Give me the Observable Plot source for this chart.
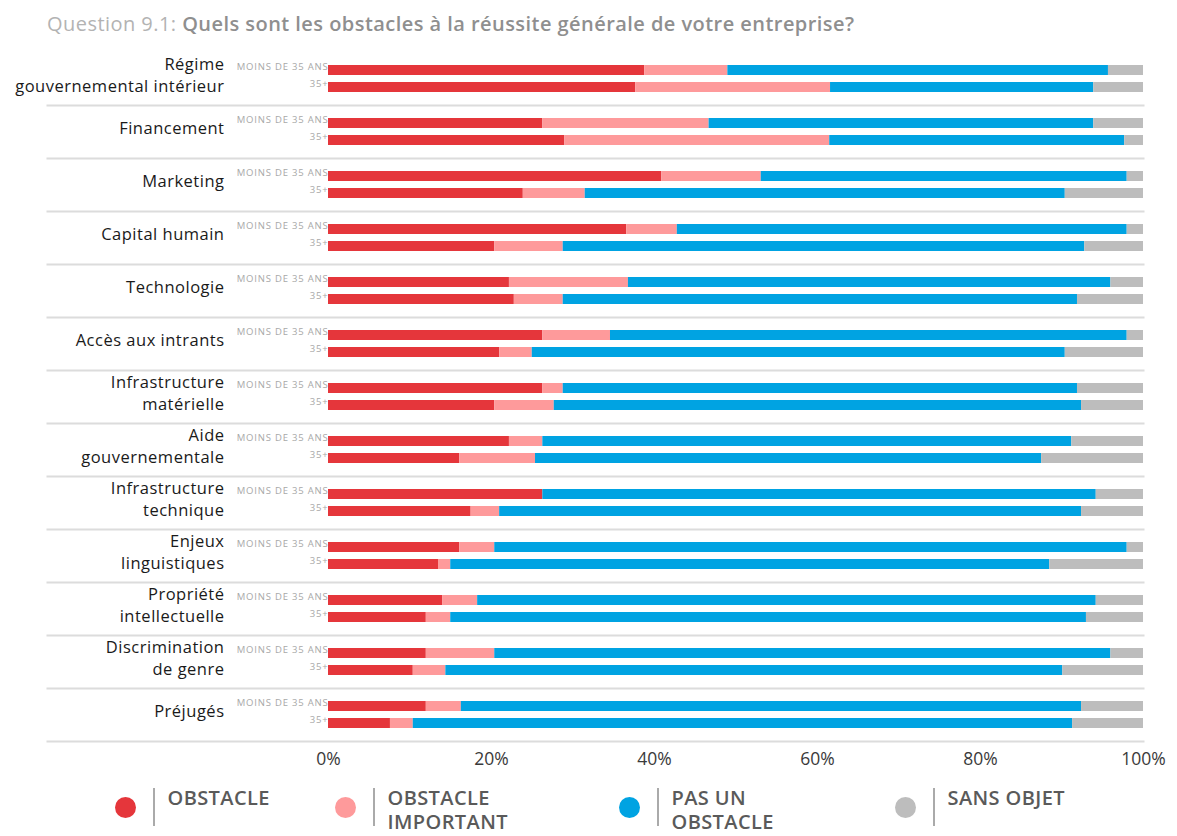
<!DOCTYPE html>
<html><head><meta charset="utf-8">
<script src="https://cdn.jsdelivr.net/npm/d3@7"></script>
<script src="https://cdn.jsdelivr.net/npm/@observablehq/plot@0.6"></script>
<style>
body{margin:0;background:#fff;font-family:"Open Sans",Lato,sans-serif;width:1177px;height:836px;position:relative;overflow:hidden}
#title{position:absolute;left:47px;top:10px;font-size:20px;color:#8f8f8f;font-weight:600;white-space:nowrap;letter-spacing:0.45px}
#title .q{color:#b3b3b3;font-weight:500}
#chart{position:absolute;left:0;top:40px}
.legend-item{position:absolute;top:786px;display:flex;align-items:flex-start}
.dot{width:21px;height:21px;border-radius:50%;margin-top:11px}
.sep{width:1.5px;height:38px;background:#aaa;margin-top:2px;margin-left:17px;margin-right:13px}
.lab{font-size:20px;font-weight:600;color:#5a5a5a;line-height:24px;white-space:pre;letter-spacing:0.4px}
</style></head><body>
<div id="title"><span class="q">Question 9.1:</span> Quels sont les obstacles à la réussite générale de votre entreprise?</div>
<div id="chart"></div>
<div id="legend"></div>
<script>
const categories = ["Régime\ngouvernemental intérieur","Financement","Marketing","Capital humain","Technologie","Accès aux intrants","Infrastructure\nmatérielle","Aide\ngouvernementale","Infrastructure\ntechnique","Enjeux\nlinguistiques","Propriété\nintellectuelle","Discrimination\nde genre","Préjugés"];
const ages = ["MOINS DE 35 ANS","35+"];
const types = ["OBSTACLE","OBSTACLE IMPORTANT","PAS UN OBSTACLE","SANS OBJET"];
const legendLabels = ["OBSTACLE","OBSTACLE\nIMPORTANT","PAS UN\nOBSTACLE","SANS OBJET"];
const colors = ["#e5363b","#fe9a9b","#00a3e2","#bdbdbd"];
const xTicks = [0,20,40,60,80,100];
// values in %, ordered category by category: [moins de 35 ans, 35+]
const obstacle          = [38.8,37.7, 26.3,29.0, 40.9,23.9, 36.6,20.4, 22.2,22.8, 26.3,21.0, 26.3,20.4, 22.2,16.1, 26.3,17.5, 16.1,13.5, 14.0,12.0, 12.0,10.4, 12.0,7.6];
const obstacleImportant = [10.2,23.9, 20.4,32.5, 12.2,7.6, 6.2,8.4, 14.6,6.0, 8.3,4.0, 2.5,7.3, 4.1,9.3, 0,3.5, 4.3,1.5, 4.3,3.0, 8.4,4.0, 4.3,2.8];
const pasUnObstacle     = [46.7,32.3, 47.2,36.2, 44.9,58.9, 55.2,64.0, 59.2,63.1, 63.4,65.4, 63.1,64.7, 64.9,62.1, 67.9,71.4, 77.6,73.5, 75.9,78.0, 75.6,75.7, 76.1,80.9];
const sansObjet         = [4.3,6.1, 6.1,2.3, 2.0,9.6, 2.0,7.2, 4.0,8.1, 2.0,9.6, 8.1,7.6, 8.8,12.5, 5.8,7.6, 2.0,11.5, 5.8,7.0, 4.0,9.9, 7.6,8.7];

const series = [obstacle, obstacleImportant, pasUnObstacle, sansObjet];
const rows = [];
types.forEach((t, ti) => categories.forEach((c, ci) => ages.forEach((a, ai) =>
  rows.push({type: t, category: c, age: a, value: series[ti][ci * 2 + ai]}))));

const chart = Plot.plot({
  width: 1177, height: 736,
  marginLeft: 328, marginRight: 34, marginTop: 12, marginBottom: 35,
  style: {fontFamily: "'Open Sans', sans-serif", fontSize: "17.5px", color: "#3a3a3a", background: "transparent"},
  facet: {data: rows, y: "category"},
  fy: {domain: categories, padding: 0, axis: null},
  y: {domain: ages, paddingInner: 0.39, paddingOuter: 0.67, axis: null},
  x: {domain: [0, 100], ticks: xTicks, tickFormat: d => d + "%", tickSize: 0, tickPadding: 11, label: null},
  color: {domain: types, range: colors},
  marks: [
    Plot.frame({anchor: "bottom", stroke: "#dcdcdc", strokeWidth: 2, insetLeft: -281}),
    Plot.barX(rows, Plot.stackX({x: "value", y: "age", fill: "type"})),
    Plot.text(rows, {filter: d => d.type === types[0] && d.age === ages[0], frameAnchor: "left", text: "category",
      dx: -104, dy: -5, textAnchor: "end", fontSize: 16.5, fill: "#1a1a1a", lineHeight: 1.35}),
    Plot.text(rows, {filter: d => d.type === types[0], y: "age", frameAnchor: "left", text: "age",
      textAnchor: "end", dx: 0, dy: -4, fontSize: 9.5, fill: "#a8a8a8"})
  ]
});
// letter spacing for the two text layers (categories, age groups)
const textLayers = chart.querySelectorAll('g[aria-label="text"]');
if (textLayers[0]) textLayers[0].setAttribute("letter-spacing", "0.5");
if (textLayers[1]) textLayers[1].setAttribute("letter-spacing", "0.8");
document.getElementById("chart").appendChild(chart);

const legendLeft = [115, 335, 619, 895];
const legend = document.getElementById("legend");
types.forEach((t, i) => {
  const item = document.createElement("div");
  item.className = "legend-item";
  item.style.left = legendLeft[i] + "px";
  item.innerHTML = `<div class="dot" style="background:${colors[i]}"></div><div class="sep"></div><div class="lab"></div>`;
  item.querySelector(".lab").textContent = legendLabels[i];
  legend.appendChild(item);
});
</script>
</body></html>
